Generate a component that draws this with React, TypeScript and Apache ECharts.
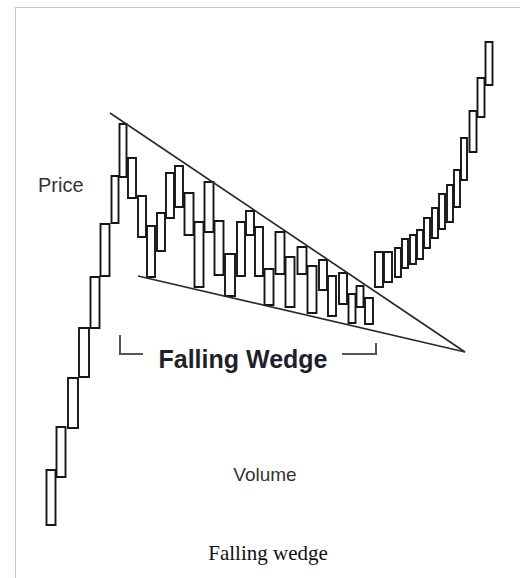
import React, { useEffect, useRef } from "react";
import * as echarts from "echarts";

// Bar positions along the time axis (sessions)
const xPos = [
  1.0, 2.0, 3.2, 4.3, 5.4, 6.4, 7.4, 8.2, 9.1, 10.1, 11.0, 12.0, 12.9, 13.8, 14.8, 15.8,
  16.8, 17.8, 18.9, 20.0, 20.9, 21.8, 22.8, 23.9, 24.9, 26.1, 27.1, 28.2, 29.1, 30.2, 31.1, 31.9,
  32.8, 33.8, 34.7, 35.7, 36.4, 37.2, 37.9, 38.6, 39.4, 40.1, 40.9, 41.6, 42.3, 43.2, 44.0, 44.8,
];
// Box top (high) values
const highs = [
  12, 20.6, 30.4, 40.4, 50.6, 61.2, 70.8, 81.2, 74.4, 66.8, 60.8, 63.4, 71.4, 72.8, 67.4, 61.6,
  69.6, 61.8, 55.2, 61.6, 63.8, 60.6, 52.2, 59.6, 54.6, 56.6, 52.8, 54, 50.8, 51.4, 47.2, 48.8,
  46.4, 55.6, 55.6, 56.4, 58.2, 59, 60, 62.4, 64.4, 67.2, 69, 72, 78.4, 83.8, 90.4, 97.6,
];
// Box bottom (low) values
const lows = [
  1, 10.6, 20.4, 30.6, 40.4, 50.8, 61.4, 70.6, 66.4, 58.6, 50.6, 55.8, 62.4, 64.6, 59, 48.6,
  59.6, 51, 46.8, 50.8, 59, 50.8, 45, 51.2, 44.6, 51.2, 43.4, 48, 42.8, 45.2, 41.4, 44.6,
  41.2, 48.6, 49.6, 50.6, 52.4, 53.2, 54.2, 56.4, 58.4, 60.2, 61.6, 64.6, 70, 75.6, 82.6, 89,
];
// Wedge trend lines [x, price]
const upperLine = [
  [6.9, 83.4],
  [42.4, 35.6],
];
const lowerLine = [
  [9.7, 50.8],
  [42.4, 35.6],
];

const labelPrice = "Price";
const labelVolume = "Volume";
const labelPattern = "Falling Wedge";
const caption = "Falling wedge";

export default function App() {
  const ref = useRef<HTMLDivElement>(null);
  useEffect(() => {
    if (!ref.current) return;
    const chart = echarts.init(ref.current, undefined, { renderer: "svg" });
    const boxData = xPos.map((x, i) => [x, highs[i], lows[i]]);
    const lineStyle = { color: "#2a2a2a", width: 1.7 };
    chart.setOption({
      animation: false,
      backgroundColor: "#fff",
      grid: { left: 41, right: 9, top: 30, bottom: 48 },
      xAxis: {
        type: "value",
        min: 0,
        max: 47,
        show: false,
      },
      yAxis: {
        type: "value",
        min: 0,
        max: 100,
        show: false,
      },
      series: [
        {
          type: "custom",
          encode: { x: 0, y: [1, 2] },
          data: boxData,
          z: 2,
          renderItem: (params: any, api: any) => {
            const idx = params.dataIndex;
            const x = api.value(0);
            const hi = api.value(1);
            const lo = api.value(2);
            const p1 = api.coord([x, hi]);
            const p2 = api.coord([x, lo]);
            const unit = api.size([1, 0])[0];
            const gaps: number[] = [];
            if (idx > 0) gaps.push((x - xPos[idx - 1]) * unit);
            if (idx < xPos.length - 1) gaps.push((xPos[idx + 1] - x) * unit);
            const w = Math.max(6, Math.min(...gaps) - 1);
            return {
              type: "rect",
              shape: { x: p1[0] - w / 2, y: p1[1], width: w, height: p2[1] - p1[1] },
              style: { fill: "#fff", stroke: "#161616", lineWidth: 1.9 },
            };
          },
        },
        {
          type: "line",
          data: upperLine,
          symbol: "none",
          lineStyle,
          z: 3,
        },
        {
          type: "line",
          data: lowerLine,
          symbol: "none",
          lineStyle,
          z: 3,
        },
      ],
      graphic: [
        {
          type: "line",
          shape: { x1: 15, y1: 7.5, x2: 520, y2: 7.5 },
          style: { stroke: "#c8c8c8", lineWidth: 1 },
        },
        {
          type: "line",
          shape: { x1: 15.5, y1: 7, x2: 15.5, y2: 578 },
          style: { stroke: "#c8c8c8", lineWidth: 1 },
        },
        {
          type: "text",
          x: 38,
          y: 185,
          style: {
            text: labelPrice,
            font: "20px 'Liberation Sans', Arial, sans-serif",
            fill: "#333",
            textAlign: "left",
            textVerticalAlign: "middle",
          },
        },
        {
          type: "text",
          x: 265,
          y: 474,
          style: {
            text: labelVolume,
            font: "19px 'Liberation Sans', Arial, sans-serif",
            fill: "#333",
            textAlign: "center",
            textVerticalAlign: "middle",
          },
        },
        {
          type: "text",
          x: 243,
          y: 359,
          style: {
            text: labelPattern,
            font: "bold 25px 'Liberation Sans', Arial, sans-serif",
            fill: "#231f2a",
            textAlign: "center",
            textVerticalAlign: "middle",
          },
        },
        {
          type: "polyline",
          shape: { points: [[120, 335], [120, 354], [143, 354]] },
          style: { stroke: "#555", lineWidth: 2, fill: "none" },
        },
        {
          type: "polyline",
          shape: { points: [[342, 354], [376, 354], [376, 343]] },
          style: { stroke: "#555", lineWidth: 2, fill: "none" },
        },
        {
          type: "text",
          x: 268,
          y: 553,
          style: {
            text: caption,
            font: "21px 'Liberation Serif', 'Times New Roman', serif",
            fill: "#111",
            textAlign: "center",
            textVerticalAlign: "middle",
          },
        },
      ],
    });
    return () => chart.dispose();
  }, []);
  return (
    <div
      ref={ref}
      style={{ position: "fixed", left: 0, top: 0, width: 520, height: 578 }}
    />
  );
}
